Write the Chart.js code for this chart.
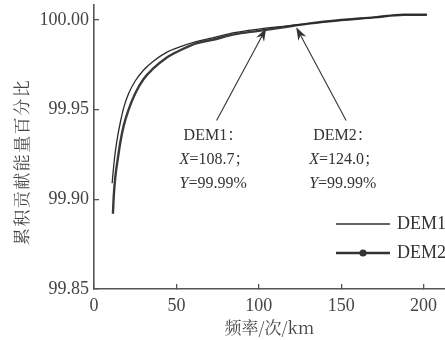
<!DOCTYPE html>
<html>
<head>
<meta charset="utf-8">
<script src="https://cdn.jsdelivr.net/npm/chart.js@4.4.0/dist/chart.umd.min.js"></script>
<style>
  html, body { margin: 0; padding: 0; background: #fff; }
  #wrap { width: 445px; height: 340px; position: relative; }
</style>
</head>
<body>
<div id="wrap"><canvas id="chart"></canvas></div>
<script>
// data
const dem1X = [11, 12, 13, 14.5, 16, 18, 21, 25, 30, 36, 44, 52, 62, 72, 85, 100, 115, 130, 150, 170, 188, 202];
const dem1Y = [99.909, 99.919, 99.927, 99.936, 99.943, 99.951, 99.959, 99.966, 99.972, 99.977, 99.982, 99.985, 99.988, 99.990, 99.993, 99.995, 99.9965, 99.998, 100.000, 100.0015, 100.003, 100.003];
const dem2X = [11.5, 12, 13, 14.5, 16, 18, 21, 25, 30, 36, 44, 52, 62, 72, 85, 100, 115, 130, 150, 170, 188, 202];
const dem2Y = [99.892, 99.902, 99.913, 99.923, 99.932, 99.941, 99.950, 99.959, 99.967, 99.973, 99.979, 99.983, 99.987, 99.989, 99.992, 99.994, 99.996, 99.998, 100.000, 100.0015, 100.003, 100.003];
const seriesNames = ['DEM1', 'DEM2'];

const xTicks = [0, 50, 100, 150, 200];
const yTicks = [99.85, 99.90, 99.95, 100.00];

// callouts: reported values and where the arrows point
const calloutX = [108.7, 124.0];
const calloutY = [99.99, 99.99];
const arrowTipX = [104.5, 122.7];
const arrowTipY = [99.9955, 99.996];
const arrowTailX = [74.4, 153];
const arrowTailY = [99.944, 99.944];

const serif = '"Liberation Serif", "Times New Roman", serif';
const cjk = '"Noto Serif CJK SC", "Noto Sans CJK SC", sans-serif';
const ink = '#333';

function toPoints(xs, ys) {
    return xs.map((x, i) => ({ x: x, y: ys[i] }));
}

function drawArrow(ctx, x1, y1, x2, y2) {
    const ang = Math.atan2(y2 - y1, x2 - x1);
    const len = 13, half = 4.5;
    ctx.beginPath();
    ctx.moveTo(x1, y1);
    ctx.lineTo(x2 - Math.cos(ang) * 8, y2 - Math.sin(ang) * 8);
    ctx.stroke();
    const bx = x2 - Math.cos(ang) * len, by = y2 - Math.sin(ang) * len;
    const nx = -Math.sin(ang), ny = Math.cos(ang);
    const mx = x2 - Math.cos(ang) * (len - 4), my = y2 - Math.sin(ang) * (len - 4);
    ctx.beginPath();
    ctx.moveTo(x2, y2);
    ctx.lineTo(bx + nx * half, by + ny * half);
    ctx.lineTo(mx, my);
    ctx.lineTo(bx - nx * half, by - ny * half);
    ctx.closePath();
    ctx.fill();
}

// draws "X=108.7；" with an italic variable name
function drawVarLine(ctx, x, y, name, rest) {
    ctx.font = 'italic 16px ' + serif;
    ctx.fillText(name, x, y);
    const w = ctx.measureText(name).width;
    ctx.font = '16px ' + serif + ', ' + cjk;
    ctx.fillText(rest, x + w, y);
}

const extras = {
    id: 'extras',
    afterDatasetsDraw(chart) {
        const ctx = chart.ctx;
        const xs = chart.scales.x, ys = chart.scales.y;
        ctx.save();
        ctx.strokeStyle = ink;
        ctx.fillStyle = ink;
        ctx.lineWidth = 1.1;
        ctx.textBaseline = 'middle';
        ctx.textAlign = 'left';

        for (let i = 0; i < calloutX.length; i++) {
            const tx = xs.getPixelForValue(arrowTailX[i]), ty = ys.getPixelForValue(arrowTailY[i]);
            const hx = xs.getPixelForValue(arrowTipX[i]), hy = ys.getPixelForValue(arrowTipY[i]);
            drawArrow(ctx, tx, ty, hx, hy);
            const left = tx - 37;
            ctx.font = '16px ' + serif + ', ' + cjk;
            ctx.fillText(seriesNames[i] + '：', left + 4, ty + 15);
            drawVarLine(ctx, left, ty + 39, 'X', '=' + calloutX[i].toFixed(1) + '；');
            drawVarLine(ctx, left, ty + 63, 'Y', '=' + calloutY[i].toFixed(2) + '%');
        }

        // legend
        const lx0 = 336, lx1 = 390, ly = [224, 253];
        ctx.lineWidth = 1.3;
        ctx.beginPath(); ctx.moveTo(lx0, ly[0]); ctx.lineTo(lx1, ly[0]); ctx.stroke();
        ctx.lineWidth = 2.6;
        ctx.beginPath(); ctx.moveTo(lx0, ly[1]); ctx.lineTo(lx1, ly[1]); ctx.stroke();
        ctx.beginPath(); ctx.arc((lx0 + lx1) / 2, ly[1], 3.6, 0, Math.PI * 2); ctx.fill();
        ctx.font = '18px ' + serif;
        ctx.fillText(seriesNames[0], 397, ly[0]);
        ctx.fillText(seriesNames[1], 397, ly[1]);

        // y axis title, reading bottom to top
        ctx.translate(22, 162);
        ctx.rotate(-Math.PI / 2);
        ctx.textAlign = 'center';
        ctx.fillStyle = '#444';
        ctx.font = '17px ' + cjk;
        ctx.letterSpacing = '1.5px';
        ctx.fillText('累积贡献能量百分比', 0, 0);
        ctx.restore();
    }
};

new Chart(document.getElementById('chart'), {
    type: 'line',
    data: {
        datasets: [
            {
                label: seriesNames[0],
                data: toPoints(dem1X, dem1Y),
                borderColor: '#2a2a2a',
                borderWidth: 1.3,
                pointRadius: 0,
                cubicInterpolationMode: 'monotone'
            },
            {
                label: seriesNames[1],
                data: toPoints(dem2X, dem2Y),
                borderColor: '#3a3a3a',
                borderWidth: 2.4,
                pointRadius: 0,
                cubicInterpolationMode: 'monotone'
            }
        ]
    },
    options: {
        responsive: true,
        maintainAspectRatio: false,
        animation: false,
        layout: { padding: { top: 5, right: 0, bottom: 0, left: 0 } },
        plugins: {
            legend: { display: false },
            tooltip: { enabled: false }
        },
        scales: {
            x: {
                type: 'linear',
                min: 0,
                max: 213,
                afterBuildTicks: (s) => { s.ticks = xTicks.map(v => ({ value: v })); },
                afterFit: (s) => {
                    s.height = 51;
                    s.paddingLeft = 0; s.paddingRight = 0;
                },
                grid: { drawOnChartArea: false, tickLength: -5, color: '#555', lineWidth: 1.3 },
                border: { color: '#555', width: 1.6 },
                ticks: { padding: 11, color: '#444', font: { family: serif, size: 18 } },
                title: {
                    display: true,
                    text: '频率/次/km',
                    color: '#444',
                    padding: { top: 0, bottom: 2 },
                    font: { family: cjk, size: 17 }
                }
            },
            y: {
                min: 99.85,
                max: 100.0084,
                afterBuildTicks: (s) => { s.ticks = yTicks.map(v => ({ value: v })); },
                afterFit: (s) => {
                    s.width = 94;
                    s.paddingTop = 0; s.paddingBottom = 0;
                },
                grid: { drawOnChartArea: false, tickLength: -5, color: '#555', lineWidth: 1.3 },
                border: { color: '#555', width: 1.6 },
                ticks: {
                    padding: 10,
                    color: '#444',
                    font: { family: serif, size: 18 },
                    callback: (v) => v.toFixed(2)
                }
            }
        }
    },
    plugins: [extras]
});
</script>
</body>
</html>
